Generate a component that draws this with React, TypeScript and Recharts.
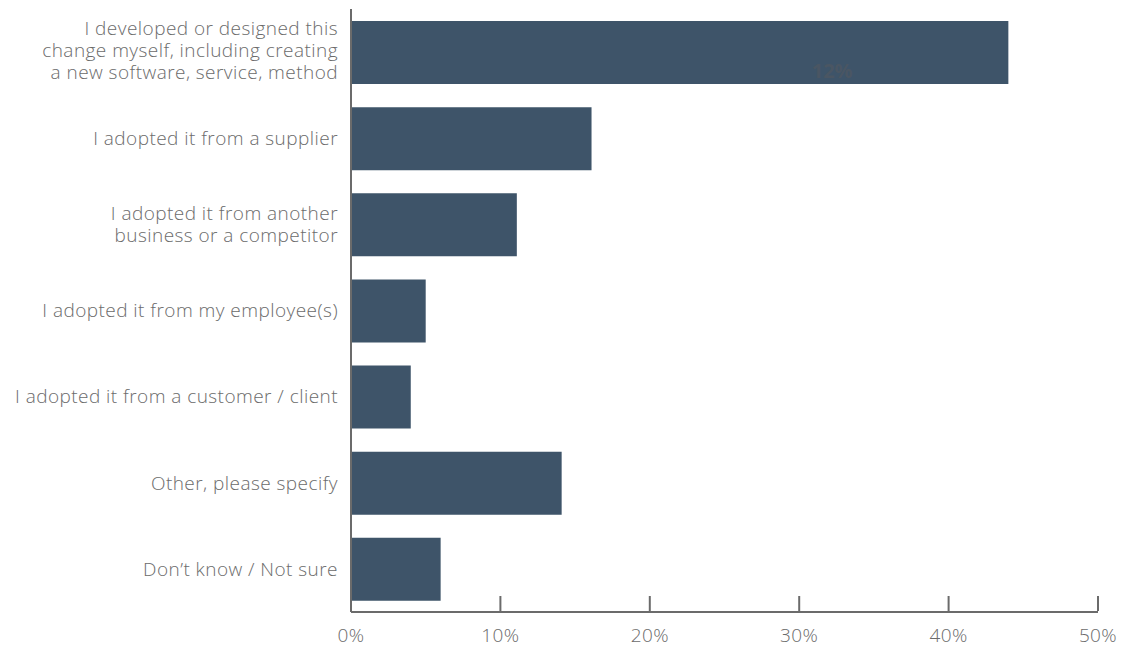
import React from 'react';
import { BarChart, Bar, XAxis, YAxis, LabelList } from 'recharts';

const categories = [
  'I developed or designed this\nchange myself, including creating\na new software, service, method',
  'I adopted it from a supplier',
  'I adopted it from another\nbusiness or a competitor',
  'I adopted it from my employee(s)',
  'I adopted it from a customer / client',
  'Other, please specify',
  'Don\u2019t know / Not sure',
];
const shares = [0.44, 0.161, 0.111, 0.05, 0.04, 0.141, 0.06];
const xTicks = [0, 0.1, 0.2, 0.3, 0.4, 0.5];
const strayLabel = '12%';

const data = categories.map((name, i) => ({ name, value: shares[i] }));

const FONT = '"Open Sans", Lato, sans-serif';
const GREY = '#6b6b6b';

const CategoryTick = (props: any) => {
  const { x, y, payload } = props;
  const lines = String(payload.value).split('\n');
  const lh = 22;
  const start = -((lines.length - 1) * lh) / 2 - (lines.length > 2 ? 2 : 0);
  return (
    <text
      x={x - 5}
      y={y}
      textAnchor="end"
      fill={GREY}
      fontSize={19}
      fontFamily={FONT}
      fontWeight={300}
      letterSpacing={0.45}
    >
      {lines.map((l, i) => (
        <tspan key={i} x={x - 5} y={y + start + i * lh} dy="0.36em">
          {l}
        </tspan>
      ))}
    </text>
  );
};

const StrayLabel = (props: any) => {
  const { x, y, width, height, index } = props;
  if (index !== 0) return null;
  return (
    <text
      x={x + width * 0.732}
      y={y + height * 0.91}
      textAnchor="middle"
      fill="#4a5663"
      fontSize={20}
      fontWeight={700}
      fontFamily={FONT}
    >
      {strayLabel}
    </text>
  );
};

export default function App() {
  return (
    <div style={{ position: 'absolute', left: 0, top: 0, background: '#fff' }}>
      <BarChart
        width={1135}
        height={647}
        data={data}
        layout="vertical"
        margin={{ top: 9, right: 37, left: 0, bottom: 0 }}
        barSize={63}
      >
        <XAxis
          type="number"
          domain={[0, 0.5]}
          ticks={xTicks}
          tickFormatter={(v: number) => `${Math.round(v * 100)}%`}
          height={35}
          axisLine={{ stroke: GREY, strokeWidth: 2 }}
          tickLine={{ stroke: GREY, strokeWidth: 2, transform: 'translate(0,-16)' }}
          tickSize={15}
          tick={{ fill: GREY, fontSize: 19, fontFamily: FONT, fontWeight: 300, letterSpacing: 0.4 }}
          interval={0}
          allowDataOverflow
        />
        <YAxis
          type="category"
          dataKey="name"
          width={351}
          axisLine={{ stroke: GREY, strokeWidth: 2 }}
          tickLine={false}
          tick={<CategoryTick />}
          interval={0}
        />
        <Bar dataKey="value" fill="#3e5469" isAnimationActive={false}>
          <LabelList dataKey="value" content={<StrayLabel />} />
        </Bar>
      </BarChart>
    </div>
  );
}
